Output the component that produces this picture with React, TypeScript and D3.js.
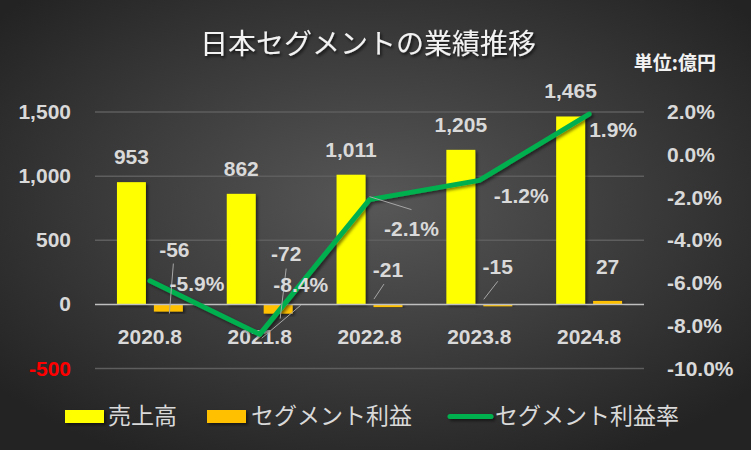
import React from "react";
import * as d3 from "d3";

const categories = ["2020.8", "2021.8", "2022.8", "2023.8", "2024.8"];
const sales = [953, 862, 1011, 1205, 1465];
const profit = [-56, -72, -21, -15, 27];
const margin = [-5.9, -8.4, -2.1, -1.2, 1.9];
const leftTicks = [-500, 0, 500, 1000, 1500];
const rightTicks = [-10, -8, -6, -4, -2, 0, 2];

// label layout offsets (px) relative to the data point, plus leader lines
const profitLabelOffset: [number, number][] = [[6, -55], [8, -53], [0, -30], [0, -32], [0, -27]];
const profitLeader: ([number, number, number, number] | null)[] = [
  [-1, 7, -5, 57], [0, 8, -6, 58], [-4, 7, -14, 22], [0, 7, -14, 25], null,
];
const marginLabelOffset: [number, number][] = [[47, 3], [41, -49], [42, 29], [42, 16], [24, 16]];
const marginLeader: ([number, number, number, number] | null)[] = [
  null, [2, 4, 41, -29], [0, -3, 42, 10], null, null,
];

const W = 751, H = 450;
const FONT = "'Liberation Sans', Arial, sans-serif";
const JFONT = "'Noto Sans CJK JP', sans-serif";
const TXT = "#d9d9d9";
const loc = d3.formatLocale({ decimal: ".", thousands: ",", grouping: [3], currency: ["", ""], minus: "-" });
const fmtInt = loc.format(",");
const fmtPct = (v: number) => loc.format(".1f")(v) + "%";

export default function App() {
  const x = d3.scaleBand<string>().domain(categories).range([95, 644]);
  const sub = d3.scaleBand<string>().domain(["sales", "profit"]).range([0, x.bandwidth()])
    .paddingInner(8 / 37).paddingOuter(22 / 37);
  const yL = d3.scaleLinear().domain([-500, 1500]).range([368.5, 112]);
  const yR = d3.scaleLinear().domain([-10, 2]).range([368.5, 112]);
  const cx = (c: string) => (x(c) as number) + x.bandwidth() / 2;
  const line = d3.line<number>().x((_, i) => cx(categories[i])).y(d => yR(d));

  return (
    <svg width={W} height={H} style={{ position: "absolute", left: 0, top: 0 }}>
      <defs>
        <radialGradient id="bg" cx="50%" cy="45%" r="65%">
          <stop offset="0%" stopColor="#575757" />
          <stop offset="100%" stopColor="#232323" />
        </radialGradient>
        <filter id="sh" x="-20%" y="-20%" width="150%" height="150%">
          <feDropShadow dx="2" dy="2" stdDeviation="1.5" floodColor="#000" floodOpacity="0.5" />
        </filter>
        <filter id="lsh" filterUnits="userSpaceOnUse" x="0" y="0" width={W} height={H}>
          <feDropShadow dx="2" dy="2" stdDeviation="1.5" floodColor="#000" floodOpacity="0.5" />
        </filter>
        <filter id="tsh" x="-10%" y="-30%" width="130%" height="170%">
          <feDropShadow dx="1.5" dy="2" stdDeviation="1.5" floodColor="#000" floodOpacity="0.7" />
        </filter>
      </defs>
      <rect width={W} height={H} fill="url(#bg)" />

      {/* title */}
      <text x={368} y={54} textAnchor="middle" fontFamily={JFONT} fontSize={28} fill="#f2f2f2" filter="url(#tsh)">
        日本セグメントの業績推移
      </text>
      <text x={716} y={70} textAnchor="end" fontFamily={JFONT} fontSize={19} fontWeight="bold" fill="#f2f2f2">
        単位:億円
      </text>

      {/* gridlines */}
      {leftTicks.filter(t => t !== 0).map(t => (
        <line key={t} x1={95} x2={644} y1={yL(t)} y2={yL(t)} stroke="#5e5e5e" strokeWidth={1.5} />
      ))}

      {/* left axis */}
      {leftTicks.map(t => (
        <text key={t} x={71} y={yL(t) + 7} textAnchor="end" fontFamily={FONT} fontWeight="bold" fontSize={21}
          fill={t < 0 ? "#ff0000" : TXT}>{fmtInt(t)}</text>
      ))}
      {/* right axis */}
      {rightTicks.map(t => (
        <text key={t} x={667} y={yR(t) + 7} fontFamily={FONT} fontWeight="bold" fontSize={21} fill={TXT}>
          {fmtPct(t)}
        </text>
      ))}

      {/* bars */}
      {categories.map((c, i) => (
        <g key={c}>
          <rect x={(x(c) as number) + (sub("sales") as number)} width={sub.bandwidth()}
            y={yL(Math.max(0, sales[i]))} height={Math.abs(yL(sales[i]) - yL(0))} fill="#ffff00" filter="url(#sh)" />
          <rect x={(x(c) as number) + (sub("profit") as number)} width={sub.bandwidth()}
            y={yL(Math.max(0, profit[i]))} height={Math.abs(yL(profit[i]) - yL(0))} fill="#ffc000" filter="url(#sh)" />
        </g>
      ))}

      {/* zero line */}
      <line x1={95} x2={644} y1={yL(0)} y2={yL(0)} stroke="#bfbfbf" strokeWidth={1.5} />

      {/* category labels */}
      {categories.map(c => (
        <text key={c} x={cx(c)} y={yL(0) + 40} textAnchor="middle" fontFamily={FONT} fontWeight="bold" fontSize={21} fill={TXT}>{c}</text>
      ))}

      {/* margin line */}
      <path d={line(margin) as string} fill="none" stroke="#00b050" strokeWidth={5} strokeLinejoin="round" strokeLinecap="round" filter="url(#lsh)" />

      {/* sales labels */}
      {categories.map((c, i) => (
        <text key={c} x={(x(c) as number) + (sub("sales") as number) + sub.bandwidth() / 2} y={yL(sales[i]) - 18}
          textAnchor="middle" fontFamily={FONT} fontWeight="bold" fontSize={21} fill={TXT}>{fmtInt(sales[i])}</text>
      ))}

      {/* profit labels */}
      {categories.map((c, i) => {
        const px = (x(c) as number) + (sub("profit") as number) + sub.bandwidth() / 2;
        const py = yL(profit[i]);
        const [dx, dy] = profitLabelOffset[i];
        const ld = profitLeader[i];
        const lx = px + dx, ly = py + dy;
        return (
          <g key={c}>
            {ld && <line x1={lx + ld[0]} y1={ly + ld[1]} x2={lx + ld[2]} y2={ly + ld[3]} stroke="#a6a6a6" strokeWidth={1} />}
            <text x={lx} y={ly} textAnchor="middle" fontFamily={FONT} fontWeight="bold" fontSize={21} fill={TXT}>
              {fmtInt(profit[i])}
            </text>
          </g>
        );
      })}

      {/* margin labels */}
      {categories.map((c, i) => {
        const px = cx(c), py = yR(margin[i]);
        const [dx, dy] = marginLabelOffset[i];
        const lx = px + dx, ly = py + dy;
        const ld = marginLeader[i];
        return (
          <g key={c}>
            {ld && <line x1={px + ld[0]} y1={py + ld[1]} x2={px + ld[2]} y2={py + ld[3]} stroke="#a6a6a6" strokeWidth={1} />}
            <text x={lx} y={ly + 7} textAnchor="middle" fontFamily={FONT} fontWeight="bold" fontSize={21} fill={TXT}>
              {fmtPct(margin[i])}
            </text>
          </g>
        );
      })}

      {/* legend */}
      <rect x={65} y={410} width={39} height={13} fill="#ffff00" filter="url(#sh)" />
      <text x={108} y={424} fontFamily={JFONT} fontSize={23} fill={TXT}>売上高</text>
      <rect x={207} y={410} width={39} height={13} fill="#ffc000" filter="url(#sh)" />
      <text x={251} y={424} fontFamily={JFONT} fontSize={23} fill={TXT}>セグメント利益</text>
      <line x1={450} x2={491} y1={416.5} y2={416.5} stroke="#00b050" strokeWidth={5} strokeLinecap="round" filter="url(#lsh)" />
      <text x={495} y={424} fontFamily={JFONT} fontSize={23} fill={TXT}>セグメント利益率</text>
    </svg>
  );
}
